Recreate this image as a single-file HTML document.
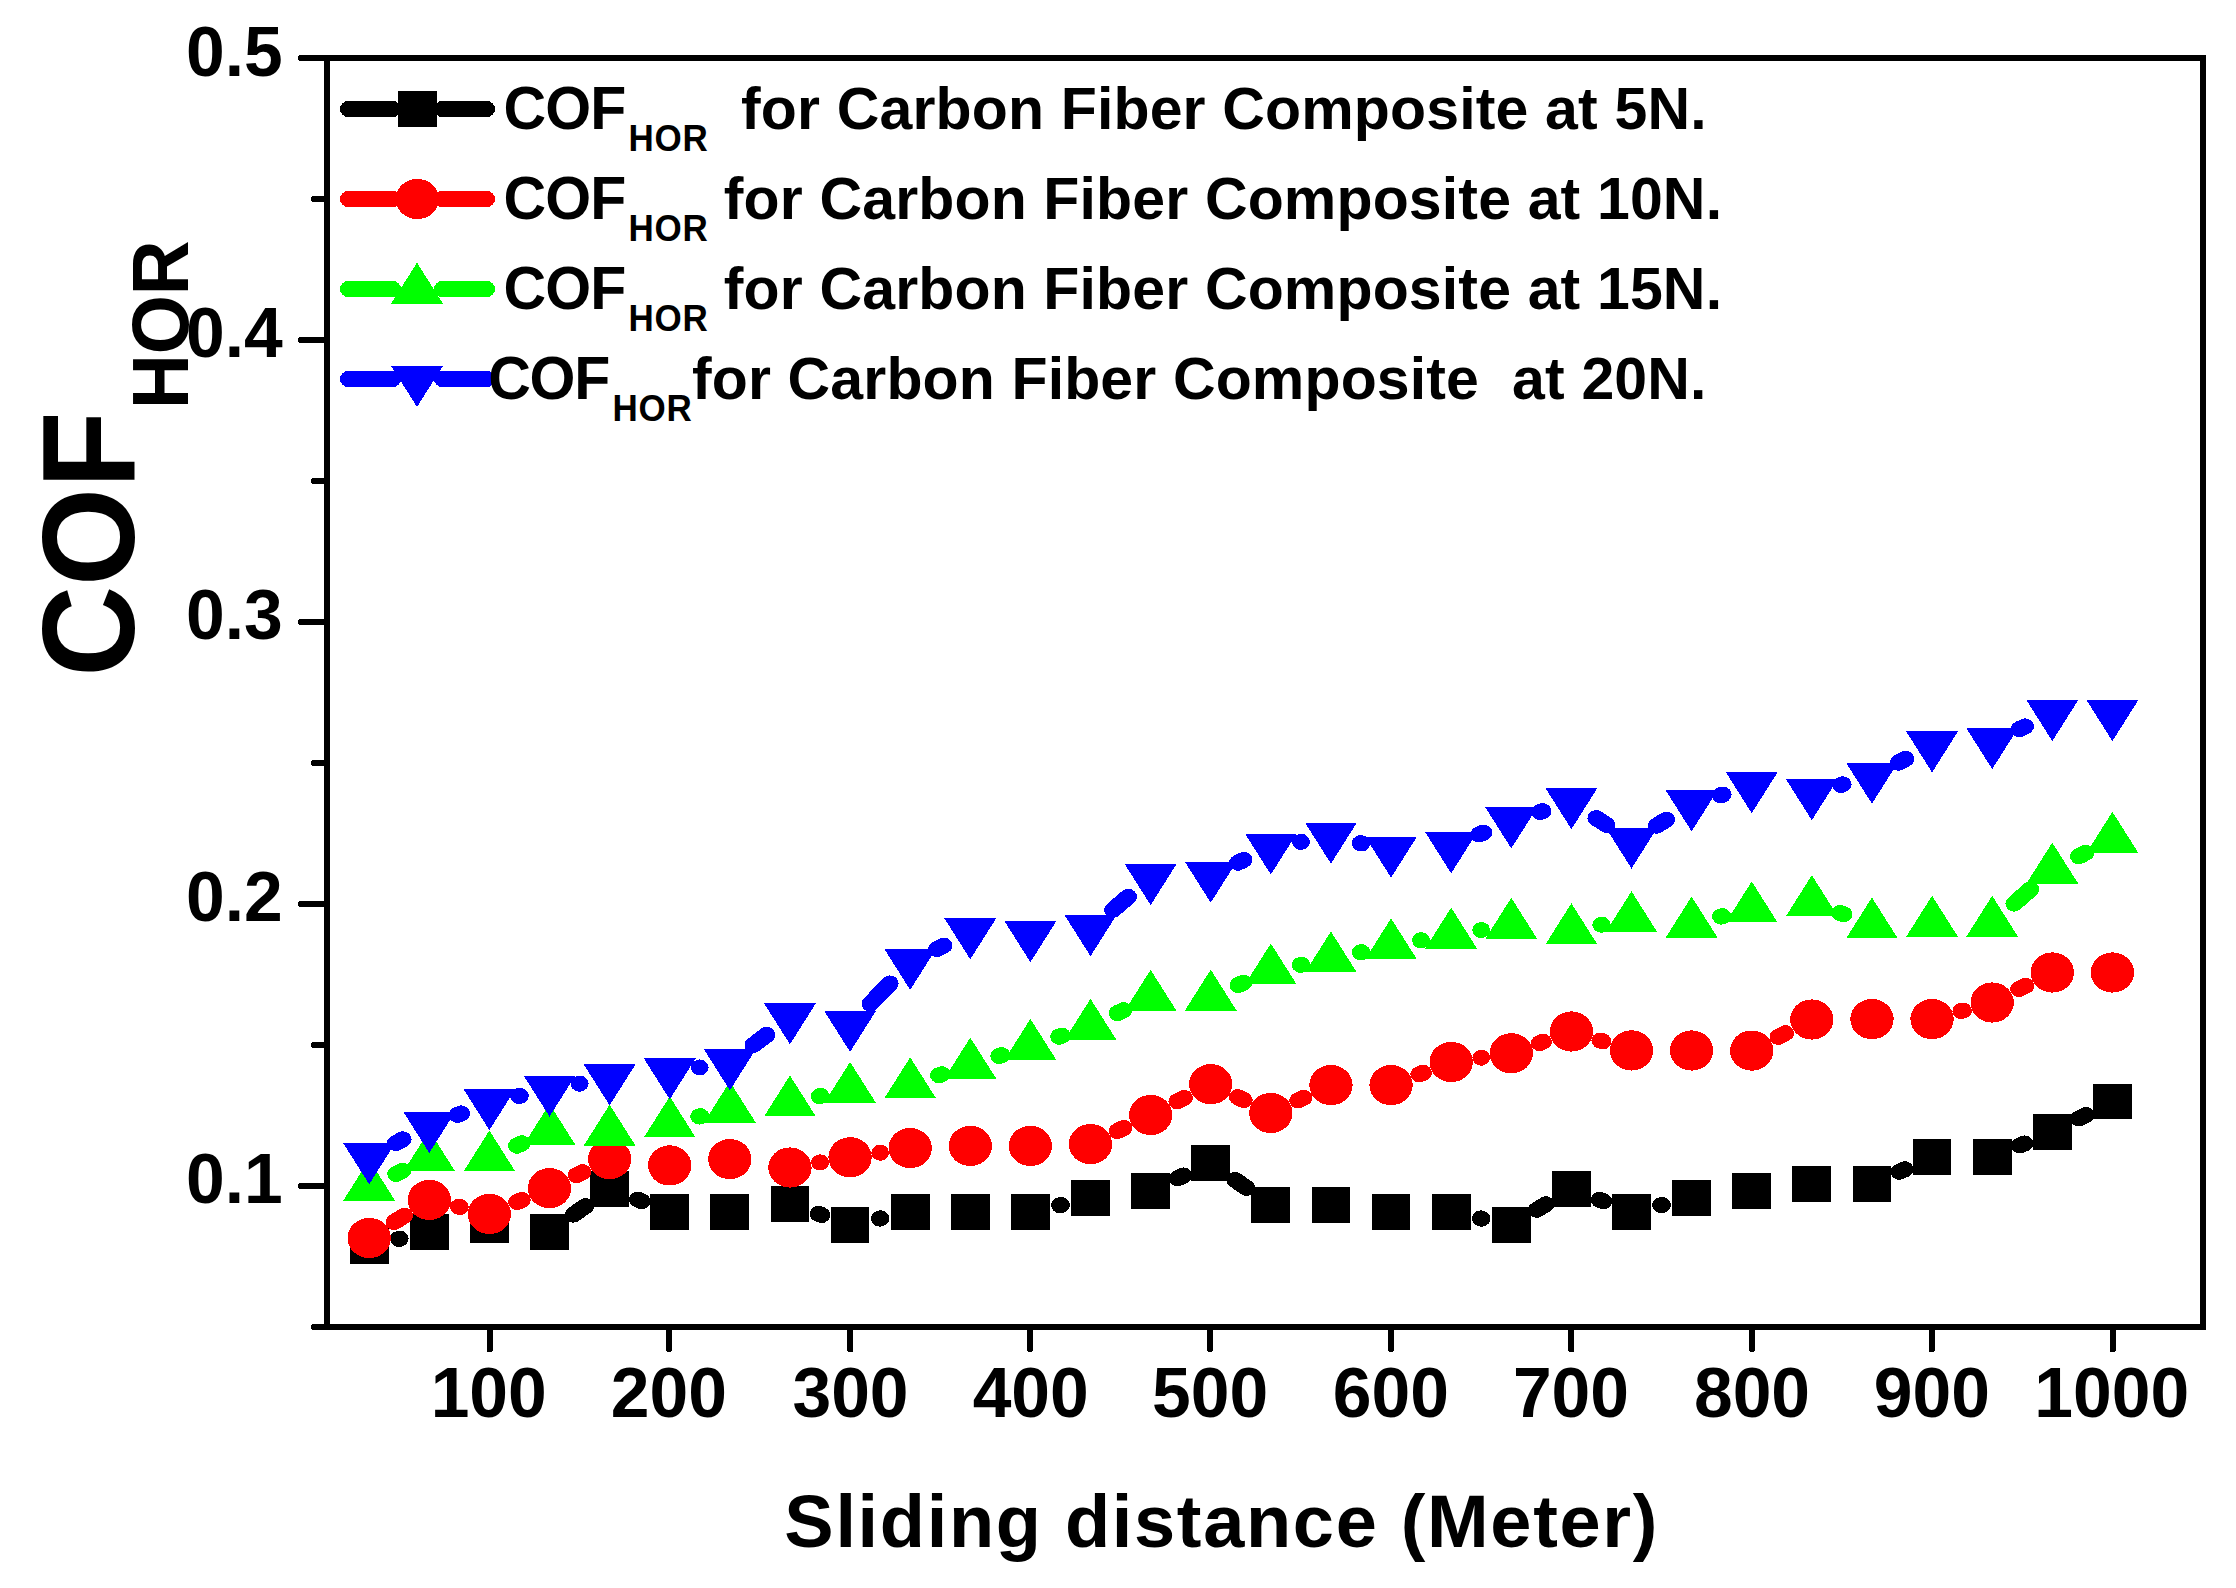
<!DOCTYPE html>
<html lang="en">
<head>
<meta charset="utf-8">
<title>COF HOR vs Sliding distance</title>
<style>
html,body{margin:0;padding:0;background:#fff;}
body{width:2236px;height:1588px;overflow:hidden;}
svg{display:block;}
svg text{font-family:"Liberation Sans",Arial,Helvetica,sans-serif;font-weight:bold;fill:#000;}
</style>
</head>
<body>
<svg width="2236" height="1588" viewBox="0 0 2236 1588" shape-rendering="crispEdges">
<rect width="2236" height="1588" fill="#fff"/>
<g id="series">
<path transform="scale(1.087,1)" d="M366.73 1238.94L367.83 1238.66M527.59 1214.64L538.77 1205.96M586.62 1199.57L590.34 1201.13M752.87 1213.88L755.88 1215.02M809.26 1218.6L810.1 1218.4M975.01 1205.19L976.15 1204.91M1083.43 1178.3L1088.93 1175.5M1136.05 1179.76L1146.91 1188.04M1362.24 1218.4L1363.12 1218.6M1413.77 1209.78L1422.19 1204.32M1471.45 1199.79L1475.1 1201.31M1528.02 1205.14L1529.13 1204.86M1747.23 1171.8L1752.33 1169.3M1858.2 1145.49L1862.56 1143.51M1912.5 1118.5L1918.85 1115" fill="none" stroke="#000" stroke-width="16" stroke-linecap="round"/>
<path d="M349.78 1227.9h38.8v35.8h-38.8zM409.89 1213.9h38.8v35.8h-38.8zM470 1207.1h38.8v35.8h-38.8zM530.11 1213.9h38.8v35.8h-38.8zM590.22 1170.9h38.8v35.8h-38.8zM650.33 1194h38.8v35.8h-38.8zM710.44 1194h38.8v35.8h-38.8zM770.56 1186.1h38.8v35.8h-38.8zM830.67 1207h38.8v35.8h-38.8zM890.78 1194.2h38.8v35.8h-38.8zM950.89 1194.2h38.8v35.8h-38.8zM1011 1194.2h38.8v35.8h-38.8zM1071.11 1180.1h38.8v35.8h-38.8zM1131.22 1173.1h38.8v35.8h-38.8zM1191.33 1144.9h38.8v35.8h-38.8zM1251.44 1187.1h38.8v35.8h-38.8zM1311.55 1187.1h38.8v35.8h-38.8zM1371.66 1194.1h38.8v35.8h-38.8zM1431.78 1194.1h38.8v35.8h-38.8zM1491.89 1207.1h38.8v35.8h-38.8zM1552 1171.2h38.8v35.8h-38.8zM1612.11 1194.1h38.8v35.8h-38.8zM1672.22 1180.1h38.8v35.8h-38.8zM1732.33 1173.1h38.8v35.8h-38.8zM1792.44 1166.2h38.8v35.8h-38.8zM1852.55 1166.2h38.8v35.8h-38.8zM1912.66 1139.1h38.8v35.8h-38.8zM1972.78 1139.1h38.8v35.8h-38.8zM2032.89 1114.1h38.8v35.8h-38.8zM2093 1083.6h38.8v35.8h-38.8z" fill="#000"/>
<path transform="scale(1.087,1)" d="M362.65 1222.14L371.91 1215.76M422.03 1206.76L423.13 1207.04M475.58 1202.12L480.18 1199.98M530.26 1175.18L536.1 1172.12M754.22 1162.43L754.54 1162.37M809.6 1152.71L809.76 1152.69M1027.96 1131.08L1033.79 1128.02M1082.95 1101.4L1089.41 1097.8M1138.62 1097.11L1144.34 1100.09M1194.08 1100.41L1199.47 1097.69M1305.52 1074.33L1309.24 1072.77M1362.64 1057.66L1362.72 1057.64M1416.33 1043.05L1419.63 1041.75M1472.08 1040.54L1474.48 1041.36M1635.89 1036.9L1642.47 1033.2M1804.2 1011.06L1805.96 1010.54M1857.3 989.17L1863.46 985.83" fill="none" stroke="#f00" stroke-width="16" stroke-linecap="round"/>
<ellipse cx="369.18" cy="1238" rx="21.65" ry="20.1" fill="#f00"/>
<ellipse cx="429.29" cy="1199.9" rx="21.65" ry="20.1" fill="#f00"/>
<ellipse cx="489.4" cy="1213.9" rx="21.65" ry="20.1" fill="#f00"/>
<ellipse cx="549.51" cy="1188.2" rx="21.65" ry="20.1" fill="#f00"/>
<ellipse cx="609.62" cy="1159.1" rx="21.65" ry="20.1" fill="#f00"/>
<ellipse cx="669.73" cy="1165.4" rx="21.65" ry="20.1" fill="#f00"/>
<ellipse cx="729.84" cy="1159.1" rx="21.65" ry="20.1" fill="#f00"/>
<ellipse cx="789.96" cy="1167.5" rx="21.65" ry="20.1" fill="#f00"/>
<ellipse cx="850.07" cy="1157.3" rx="21.65" ry="20.1" fill="#f00"/>
<ellipse cx="910.18" cy="1148.1" rx="21.65" ry="20.1" fill="#f00"/>
<ellipse cx="970.29" cy="1145.9" rx="21.65" ry="20.1" fill="#f00"/>
<ellipse cx="1030.4" cy="1145.9" rx="21.65" ry="20.1" fill="#f00"/>
<ellipse cx="1090.51" cy="1144.1" rx="21.65" ry="20.1" fill="#f00"/>
<ellipse cx="1150.62" cy="1115" rx="21.65" ry="20.1" fill="#f00"/>
<ellipse cx="1210.73" cy="1084.2" rx="21.65" ry="20.1" fill="#f00"/>
<ellipse cx="1270.84" cy="1113" rx="21.65" ry="20.1" fill="#f00"/>
<ellipse cx="1330.95" cy="1085.1" rx="21.65" ry="20.1" fill="#f00"/>
<ellipse cx="1391.07" cy="1085.1" rx="21.65" ry="20.1" fill="#f00"/>
<ellipse cx="1451.18" cy="1062" rx="21.65" ry="20.1" fill="#f00"/>
<ellipse cx="1511.29" cy="1053.3" rx="21.65" ry="20.1" fill="#f00"/>
<ellipse cx="1571.4" cy="1031.5" rx="21.65" ry="20.1" fill="#f00"/>
<ellipse cx="1631.51" cy="1050.4" rx="21.65" ry="20.1" fill="#f00"/>
<ellipse cx="1691.62" cy="1050.5" rx="21.65" ry="20.1" fill="#f00"/>
<ellipse cx="1751.73" cy="1050.6" rx="21.65" ry="20.1" fill="#f00"/>
<ellipse cx="1811.84" cy="1019.5" rx="21.65" ry="20.1" fill="#f00"/>
<ellipse cx="1871.95" cy="1019.1" rx="21.65" ry="20.1" fill="#f00"/>
<ellipse cx="1932.06" cy="1019.1" rx="21.65" ry="20.1" fill="#f00"/>
<ellipse cx="1992.18" cy="1002.5" rx="21.65" ry="20.1" fill="#f00"/>
<ellipse cx="2052.29" cy="972.5" rx="21.65" ry="20.1" fill="#f00"/>
<ellipse cx="2112.4" cy="972.5" rx="21.65" ry="20.1" fill="#f00"/>
<path transform="scale(1.087,1)" d="M364.36 1173.88L370.2 1170.82M475.42 1145.68L480.34 1143.32M643.12 1116.53L644.44 1116.17M753.88 1096.17L754.88 1095.93M863.64 1075.28L866.32 1074.32M919.11 1055.95L921.45 1055.15M974.2 1036.65L976.96 1035.65M1027.98 1013.12L1033.78 1010.08M1139.09 985.03L1143.87 982.77M1196.44 964.87L1197.11 964.73M1251.63 952.36L1252.53 952.14M1307.16 940.34L1307.6 940.26M1362.55 930.02L1362.81 929.98M1472.94 924.67L1473.61 924.53M1583.19 916.54L1584.57 916.16M1692.75 912.95L1696.21 914.35M1852.87 903.72L1867.89 889.28M1912.45 856.3L1918.91 852.7" fill="none" stroke="#0f0" stroke-width="16" stroke-linecap="round"/>
<path d="M369.18 1159.57L395.08 1200.57L343.28 1200.57zM429.29 1130.47L455.19 1171.47L403.39 1171.47zM489.4 1130.47L515.3 1171.47L463.5 1171.47zM549.51 1103.87L575.41 1144.87L523.61 1144.87zM609.62 1104.67L635.52 1145.67L583.72 1145.67zM669.73 1096.47L695.63 1137.47L643.83 1137.47zM729.84 1081.57L755.74 1122.57L703.94 1122.57zM789.96 1075.47L815.86 1116.47L764.06 1116.47zM850.07 1061.97L875.97 1102.97L824.17 1102.97zM910.18 1057.37L936.08 1098.37L884.28 1098.37zM970.29 1037.57L996.19 1078.57L944.39 1078.57zM1030.4 1018.87L1056.3 1059.87L1004.5 1059.87zM1090.51 998.77L1116.41 1039.77L1064.61 1039.77zM1150.62 969.77L1176.52 1010.77L1124.72 1010.77zM1210.73 969.67L1236.63 1010.67L1184.83 1010.67zM1270.84 943.47L1296.74 984.47L1244.94 984.47zM1330.95 931.47L1356.85 972.47L1305.05 972.47zM1391.07 918.37L1416.97 959.37L1365.16 959.37zM1451.18 907.57L1477.08 948.57L1425.28 948.57zM1511.29 897.77L1537.19 938.77L1485.39 938.77zM1571.4 903.27L1597.3 944.27L1545.5 944.27zM1631.51 891.27L1657.41 932.27L1605.61 932.27zM1691.62 896.57L1717.52 937.57L1665.72 937.57zM1751.73 881.47L1777.63 922.47L1725.83 922.47zM1811.84 875.17L1837.74 916.17L1785.94 916.17zM1871.95 897.47L1897.85 938.47L1846.05 938.47zM1932.06 895.77L1957.96 936.77L1906.16 936.77zM1992.18 895.77L2018.08 936.77L1966.28 936.77zM2052.29 842.57L2078.19 883.57L2026.39 883.57zM2112.4 811.77L2138.3 852.77L2086.5 852.77z" fill="#0f0"/>
<path transform="scale(1.087,1)" d="M363.95 1143.13L370.61 1139.37M420.77 1114.95L424.39 1113.45M477.37 1096.13L478.39 1095.87M532.92 1083.65L533.44 1083.55M643.72 1067.51L643.84 1067.49M692.92 1045.13L705.24 1034.87M800.63 1003.74L818.72 983.46M861.78 949.07L868.17 945.53M1023.76 909.93L1038 896.77M1138.73 862.7L1144.23 859.9M1196.56 841.84L1197 841.76M1251.54 843.21L1252.62 843.49M1360.51 834.52L1364.84 832.58M1416.73 811.93L1419.22 811.07M1468.41 818.09L1478.15 825.01M1524.12 825.6L1533.04 819.6M1582.79 795.31L1584.96 794.59M1693.61 784.91L1695.34 784.39M1746.45 762.63L1753.1 758.87M1857.66 729.17L1863.09 726.43" fill="none" stroke="#00f" stroke-width="16" stroke-linecap="round"/>
<path d="M369.18 1184.23L395.08 1143.23L343.28 1143.23zM429.29 1152.93L455.19 1111.93L403.39 1111.93zM489.4 1130.13L515.3 1089.13L463.5 1089.13zM549.51 1116.53L575.41 1075.53L523.61 1075.53zM609.62 1105.33L635.52 1064.33L583.72 1064.33zM669.73 1099.33L695.63 1058.33L643.83 1058.33zM729.84 1090.33L755.74 1049.33L703.94 1049.33zM789.96 1044.33L815.86 1003.33L764.06 1003.33zM850.07 1051.93L875.97 1010.93L824.17 1010.93zM910.18 989.93L936.08 948.93L884.28 948.93zM970.29 959.33L996.19 918.33L944.39 918.33zM1030.4 962.23L1056.3 921.23L1004.5 921.23zM1090.51 956.23L1116.41 915.23L1064.61 915.23zM1150.62 905.13L1176.52 864.13L1124.72 864.13zM1210.73 902.73L1236.63 861.73L1184.83 861.73zM1270.84 874.53L1296.74 833.53L1244.94 833.53zM1330.95 863.73L1356.85 822.73L1305.05 822.73zM1391.07 877.63L1416.97 836.63L1365.16 836.63zM1451.18 873.33L1477.08 832.33L1425.28 832.33zM1511.29 848.43L1537.19 807.43L1485.39 807.43zM1571.4 829.23L1597.3 788.23L1545.5 788.23zM1631.51 868.53L1657.41 827.53L1605.61 827.53zM1691.62 831.33L1717.52 790.33L1665.72 790.33zM1751.73 813.23L1777.63 772.23L1725.83 772.23zM1811.84 820.23L1837.74 779.23L1785.94 779.23zM1871.95 803.73L1897.85 762.73L1846.05 762.73zM1932.06 772.43L1957.96 731.43L1906.16 731.43zM1992.18 769.13L2018.08 728.13L1966.28 728.13zM2052.29 741.13L2078.19 700.13L2026.39 700.13zM2112.4 741.13L2138.3 700.13L2086.5 700.13z" fill="#00f"/>
</g>
<g id="axes" fill="#000">
<rect x="324" y="55" width="6" height="1275"/>
<rect x="2200" y="55" width="6" height="1275"/>
<rect x="324" y="55" width="1882" height="6"/>
<rect x="324" y="1324" width="1882" height="6"/>
<path d="M300.5 58H326M313.5 199H326M300.5 340H326M313.5 481H326M300.5 622H326M313.5 763H326M300.5 904H326M313.5 1045H326M300.5 1186H326M313.5 1327H326" stroke="#000" stroke-width="5.6" stroke-linecap="round" fill="none"/>
<path d="M489.8 1327V1349.5M669 1327V1349.5M850.2 1327V1349.5M1030.1 1327V1349.5M1210.1 1327V1349.5M1391 1327V1349.5M1571.35 1327V1349.5M1752 1327V1349.5M1931.9 1327V1349.5M2112.8 1327V1349.5" stroke="#000" stroke-width="6" stroke-linecap="round" fill="none"/>
</g>
<g id="ticklabels">
<text x="185.95" y="75.9" font-size="69.6" transform="translate(0 75.9) scale(1 1.02) translate(0 -75.9)">0.5</text>
<text x="185.95" y="356.6" font-size="69.6" transform="translate(0 356.6) scale(1 1.02) translate(0 -356.6)">0.4</text>
<text x="185.95" y="638.6" font-size="69.6" transform="translate(0 638.6) scale(1 1.02) translate(0 -638.6)">0.3</text>
<text x="185.95" y="920.6" font-size="69.6" transform="translate(0 920.6) scale(1 1.02) translate(0 -920.6)">0.2</text>
<text x="185.95" y="1202.6" font-size="69.6" transform="translate(0 1202.6) scale(1 1.02) translate(0 -1202.6)">0.1</text>
<text x="430.67" y="1416.8" font-size="69.6" transform="translate(0 1416.8) scale(1 1.02) translate(0 -1416.8)">100</text>
<text x="610.86" y="1416.8" font-size="69.6" transform="translate(0 1416.8) scale(1 1.02) translate(0 -1416.8)">200</text>
<text x="792.47" y="1416.8" font-size="69.6" transform="translate(0 1416.8) scale(1 1.02) translate(0 -1416.8)">300</text>
<text x="972.64" y="1416.8" font-size="69.6" transform="translate(0 1416.8) scale(1 1.02) translate(0 -1416.8)">400</text>
<text x="1152.09" y="1416.8" font-size="69.6" transform="translate(0 1416.8) scale(1 1.02) translate(0 -1416.8)">500</text>
<text x="1332.79" y="1416.8" font-size="69.6" transform="translate(0 1416.8) scale(1 1.02) translate(0 -1416.8)">600</text>
<text x="1512.92" y="1416.8" font-size="69.6" transform="translate(0 1416.8) scale(1 1.02) translate(0 -1416.8)">700</text>
<text x="1693.96" y="1416.8" font-size="69.6" transform="translate(0 1416.8) scale(1 1.02) translate(0 -1416.8)">800</text>
<text x="1873.76" y="1416.8" font-size="69.6" transform="translate(0 1416.8) scale(1 1.02) translate(0 -1416.8)">900</text>
<text x="2034.32" y="1416.8" font-size="69.6" transform="translate(0 1416.8) scale(1 1.02) translate(0 -1416.8)">1000</text>
</g>
<g id="titles">
<text x="784.37" y="1547" font-size="74" letter-spacing="1.67">Sliding distance (Meter)</text>
<g transform="rotate(-90)">
<text x="-676.87" y="134.3" font-size="126" letter-spacing="-0.24" transform="translate(0 134.3) scale(1 1.05) translate(0 -134.3)">COF</text>
<text x="-408.98" y="188.1" font-size="76" letter-spacing="-0.17" transform="translate(0 188.1) scale(1 1.05) translate(0 -188.1)">HOR</text>
</g>
</g>
<g id="legend">
<path d="M348 109H393M442 109H487" stroke="#000" stroke-width="16" stroke-linecap="round" fill="none"/>
<path d="M348 199H393M442 199H487" stroke="#f00" stroke-width="16" stroke-linecap="round" fill="none"/>
<path d="M348 289H393M442 289H487" stroke="#0f0" stroke-width="16" stroke-linecap="round" fill="none"/>
<path d="M348 379H393M442 379H487" stroke="#00f" stroke-width="16" stroke-linecap="round" fill="none"/>
<path d="M398.1 91.1h38.8v35.8h-38.8z" fill="#000"/>
<ellipse cx="417.3" cy="199" rx="21.65" ry="20.1" fill="#f00"/>
<path d="M417 262.67L442.9 303.67L391.1 303.67z" fill="#0f0"/>
<path d="M417 406.93L442.9 365.93L391.1 365.93z" fill="#00f"/>
<text x="503.38" y="129" font-size="59" letter-spacing="-0.78" transform="translate(0 129) scale(1 1.03) translate(0 -129)">COF</text>
<text x="628.56" y="150.7" font-size="35" letter-spacing="0.74" transform="translate(0 150.7) scale(1 1.03) translate(0 -150.7)">HOR</text>
<text x="740.99" y="129" font-size="59" letter-spacing="0.16" style="white-space:pre">for Carbon Fiber Composite at 5N.</text>
<text x="503.38" y="219" font-size="59" letter-spacing="-0.78" transform="translate(0 219) scale(1 1.03) translate(0 -219)">COF</text>
<text x="628.56" y="240.7" font-size="35" letter-spacing="0.74" transform="translate(0 240.7) scale(1 1.03) translate(0 -240.7)">HOR</text>
<text x="723.79" y="219" font-size="59" letter-spacing="0.15" style="white-space:pre">for Carbon Fiber Composite at 10N.</text>
<text x="503.38" y="309" font-size="59" letter-spacing="-0.78" transform="translate(0 309) scale(1 1.03) translate(0 -309)">COF</text>
<text x="628.56" y="330.7" font-size="35" letter-spacing="0.74" transform="translate(0 330.7) scale(1 1.03) translate(0 -330.7)">HOR</text>
<text x="723.79" y="309" font-size="59" letter-spacing="0.15" style="white-space:pre">for Carbon Fiber Composite at 15N.</text>
<text x="488.18" y="399" font-size="59" letter-spacing="-1.18" transform="translate(0 399) scale(1 1.03) translate(0 -399)">COF</text>
<text x="612.56" y="420.7" font-size="35" letter-spacing="0.74" transform="translate(0 420.7) scale(1 1.03) translate(0 -420.7)">HOR</text>
<text x="691.99" y="399" font-size="59" letter-spacing="0.14" style="white-space:pre">for Carbon Fiber Composite  at 20N.</text>
</g>
</svg>
</body>
</html>
